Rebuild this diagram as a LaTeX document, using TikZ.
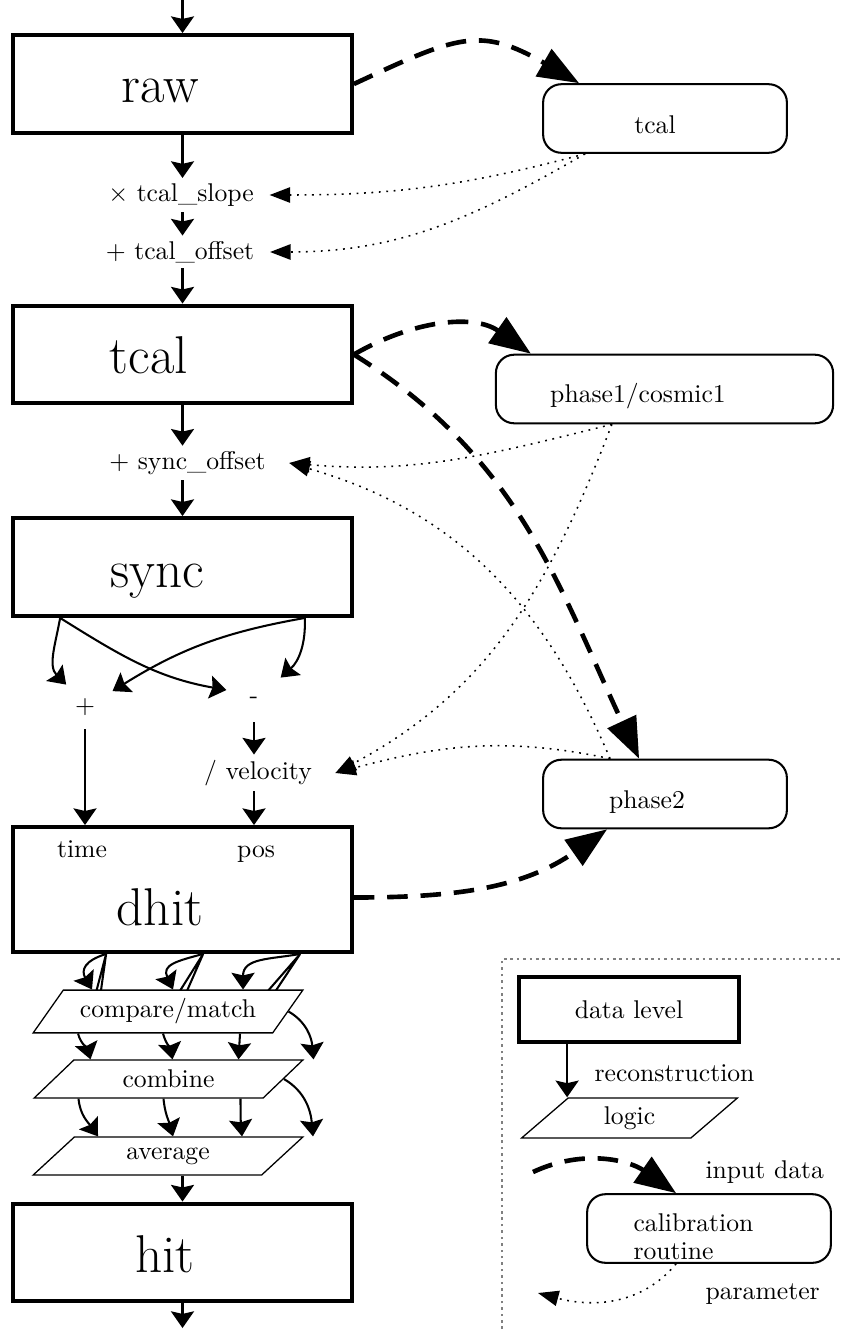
\documentclass[tikz,border=0pt]{standalone}
\usetikzlibrary{arrows.meta,shapes.geometric,calc,backgrounds}
\begin{document}
\begin{tikzpicture}[x=0.0137cm,y=0.0137cm,
    datalevel/.style={draw,line width=1.6pt,minimum width=4.64cm,minimum height=1.34cm},
    levellabel/.style={anchor=base,font=\huge},
    opnode/.style={inner xsep=6pt,inner ysep=2pt},
    sumnode/.style={minimum width=0.74cm,minimum height=0.6cm,inner sep=0pt},
    calibbox/.style={draw,thick,rounded corners=0.25cm,minimum width=3.34cm,minimum height=0.94cm},
    caliblabel/.style={anchor=base},
    logicbox/.style={draw,fill=white,line width=0.5pt,trapezium,trapezium left angle=57,
      trapezium right angle=123,trapezium stretches=true,minimum width=3.7cm,minimum height=0.52cm},
    flow/.style={thick,-{Stealth[length=6.5pt,width=9pt,inset=1pt]}},
    datain/.style={line width=1.8pt,dash pattern=on 8pt off 5pt,-{Triangle[length=16pt,width=12pt]}},
    paramarrow/.style={line width=0.6pt,dash pattern=on 0.7pt off 2.2pt,-{Triangle[length=8pt,width=6pt]}},
    legendframe/.style={gray,line width=0.5pt,dash pattern=on 1pt off 1.5pt}]
  \useasboundingbox (0,0) rectangle (842,-1329);

  % data levels
  \node[datalevel] (raw) at (182.5,-84) {};
  \node[levellabel] (rawlabel) at (160,-103) {raw};
  \node[datalevel] (tcal) at (182.5,-354.5) {};
  \node[levellabel] (tcallabel) at (149,-373) {tcal};
  \node[datalevel] (sync) at (182.5,-567) {};
  \node[levellabel] (synclabel) at (157,-587) {sync};
  \node[datalevel,minimum height=1.71cm] (dhit) at (182.5,-889.5) {};
  \node[levellabel] (dhitlabel) at (160,-925) {dhit};
  \node[anchor=base] (timelabel) at (82,-857) {time};
  \node[anchor=base] (poslabel) at (256,-857) {pos};
  \node[datalevel] (hit) at (182.5,-1252.5) {};
  \node[levellabel] (hitlabel) at (165,-1272) {hit};
  \coordinate (in) at (182.5,0);
  \coordinate (out) at (182.5,-1328);

  % operations
  \node[opnode] (slope) at (181,-195) {$\times$ tcal\_slope};
  \node[opnode] (offset) at (180,-252) {+ tcal\_offset};
  \node[opnode] (syncoff) at (187.5,-463) {+ sync\_offset};
  \node[sumnode] (plus) at (85,-707) {+};
  \node[sumnode] (minus) at (254,-700) {-};
  \node[opnode] (velocity) at (258,-773) {/ velocity};

  % calibration routines
  \node[calibbox] (tcalib) at (665,-118.5) {};
  \node[caliblabel] (tcaliblabel) at (655,-134) {tcal};
  \node[calibbox,minimum width=4.62cm] (phase1) at (664.5,-389) {};
  \node[caliblabel] (phase1label) at (638,-402) {phase1/cosmic1};
  \node[calibbox] (phase2) at (665,-794) {};
  \node[caliblabel] (phase2label) at (647,-808) {phase2};

  % logic
  \node[logicbox] (compare) at (168,-1011.5) {compare/match};
  \node[logicbox] (combine) at (168.5,-1079) {combine};
  \node[logicbox] (average) at (168,-1156) {average};

  % reconstruction
  \draw[flow] (in) -- (raw.north);
  \draw[flow] (raw.south) -- (raw.south |- slope.north);
  \draw[flow] (raw.south |- slope.south) -- (raw.south |- offset.north);
  \draw[flow] (raw.south |- offset.south) -- (tcal.north);
  \draw[flow] (tcal.south) -- (tcal.south |- syncoff.north);
  \draw[flow] (tcal.south |- syncoff.south) -- (sync.north);
  \coordinate (syncl) at ($(sync.south west)+(49,0)$);
  \coordinate (syncr) at ($(sync.south east)+(-49,0)$);
  \draw[flow] (syncl) to[out=-100,in=135] (plus.130);
  \draw[flow] (syncl) to[out=-32,in=170] (minus.160);
  \draw[flow] (syncr) to[out=190,in=32] (plus.30);
  \draw[flow] (syncr) to[out=-88,in=42] (minus.40);
  \draw[flow] (plus.south) -- (plus.south |- dhit.north);
  \draw[flow] (minus.south) -- (minus.south |- velocity.north);
  \draw[flow] (minus.south |- velocity.south) -- (minus.south |- dhit.north);

  \coordinate (d1) at ($(dhit.south west)+(95,0)$);
  \coordinate (d2) at ($(dhit.south west)+(192,0)$);
  \coordinate (d3) at ($(dhit.south west)+(289,0)$);
  \begin{pgfonlayer}{background}
    \draw[thick] (d1) -- ($(compare.center)+(-77,0)$) (d1) -- ($(compare.center)+(-70,0)$);
    \draw[thick] (d2) -- ($(compare.center)+(-1,0)$) (d2) -- ($(compare.center)+(10,0)$);
    \draw[thick] (d3) -- ($(compare.center)+(82,0)$) (d3) -- ($(compare.center)+(94,0)$);
  \end{pgfonlayer}
  \draw[flow] (d1) to[out=197,in=120,looseness=1.5] ($(compare.north)+(-76,0)$);
  \draw[flow] (d2) to[out=195,in=115,looseness=1.5] ($(compare.north)+(5,0)$);
  \draw[flow] (d3) to[out=190,in=90,looseness=1.2] ($(compare.north)+(75,0)$);

  \draw[flow] ($(compare.south)+(-90,0)$) to[out=-75,in=105] ($(combine.north)+(-78,0)$);
  \draw[flow] ($(compare.south)+(-5,0)$) to[out=-75,in=100] ($(combine.north)+(4,0)$);
  \draw[flow] ($(compare.south)+(72,0)$) -- ($(combine.north)+(70,0)$);
  \draw[flow] (compare.east) to[out=-30,in=95] ($(combine.north)+(145,0)$);

  \draw[flow] ($(combine.south)+(-90,0)$) to[out=-85,in=125] ($(average.north)+(-70,0)$);
  \draw[flow] ($(combine.south)+(-5,0)$) to[out=-85,in=105] ($(average.north)+(5,0)$);
  \draw[flow] ($(combine.south)+(72,0)$) to[out=-90,in=95] ($(average.north)+(74,0)$);
  \draw[flow] (combine.east) to[out=-30,in=95] ($(average.north)+(145,0)$);

  \draw[flow] (average.south -| hit.north) -- (hit.north);
  \draw[flow] (hit.south) -- (out);

  % input data
  \draw[datain] (raw.east) to[out=25,in=150,looseness=1.3] ($(tcalib.north west)+(37,0)$);
  \draw[datain] (tcal.east) to[out=30,in=145] ($(phase1.north west)+(36,0)$);
  \draw[datain] (tcal.east) to[out=-32,in=115] ($(phase2.north west)+(97,0)$);
  \draw[datain] ($(dhit.east)+(0,-8)$) to[out=0,in=-145] ($(phase2.south west)+(65,0)$);

  % parameters
  \draw[paramarrow] ($(tcalib.south west)+(43,0)$) to[out=195,in=0] (slope.east);
  \draw[paramarrow] ($(tcalib.south west)+(43,0)$) to[out=210,in=0] (offset.east);
  \draw[paramarrow] ($(phase1.south west)+(117,0)$) to[out=194,in=-5] ([xshift=3pt]syncoff.east);
  \draw[paramarrow] ($(phase1.south west)+(117,0)$) to[out=-111,in=28] ([xshift=3pt]velocity.east);
  \draw[paramarrow] ($(phase2.north west)+(68,0)$) to[out=168,in=15] ([xshift=3pt]velocity.east);
  \draw[paramarrow] ($(phase2.north west)+(68,0)$) to[out=113,in=-16] ([xshift=3pt]syncoff.east);

  % legend
  \draw[legendframe] (502,-1329) -- (502,-959) -- (842,-959);
  \node[datalevel,minimum width=3.01cm,minimum height=0.89cm] (legdata) at (629,-1009.5) {data level};
  \node[logicbox,minimum width=2.97cm] (leglogic) at (629.5,-1118) {logic};
  \coordinate (recstart) at ($(legdata.south west)+(50,0)$);
  \draw[flow] (recstart) -- (recstart |- leglogic.north);
  \node[anchor=base west] (reclabel) at (585.5,-1081) {reconstruction};
  \node[calibbox] (legcalib) at (709,-1228.5) {};
  \node[anchor=north west,align=left,font=\fontsize{10}{11}\selectfont] (legcaliblabel)
    at (624.5,-1204.5) {calibration\\routine};
  \coordinate (indatastart) at (533,-1172);
  \draw[datain] (indatastart) to[out=25,in=145] ($(legcalib.north west)+(90,0)$);
  \node[anchor=base west] (inputlabel) at (696.5,-1178) {input data};
  \coordinate (paramend) at (538,-1293);
  \draw[paramarrow] ($(legcalib.south west)+(90,0)$) to[out=-130,in=-15] (paramend);
  \node[anchor=base west] (paramlabel) at (696.5,-1299) {parameter};
\end{tikzpicture}
\end{document}
